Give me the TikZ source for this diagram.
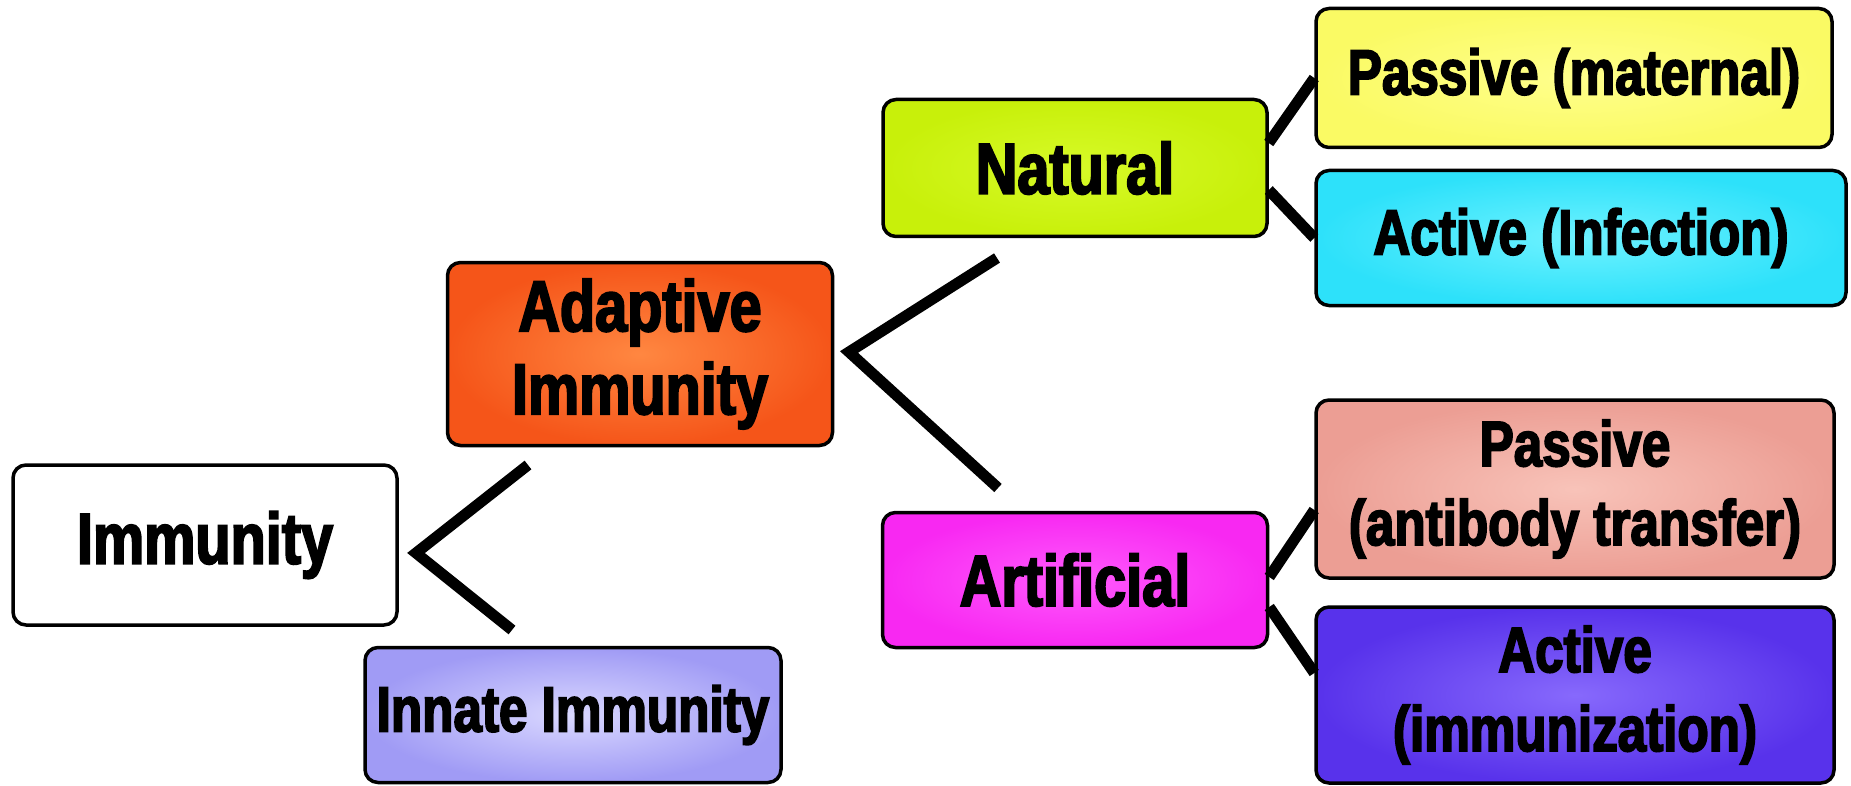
\documentclass[tikz,border=0pt]{standalone}
\usepackage{fontspec}
\newfontfamily\lab{Liberation Sans}[FakeStretch=0.80,FakeBold=2.8]
\definecolor{cInnI}{RGB}{218,216,255}
\definecolor{cInnO}{RGB}{160,155,245}
\definecolor{cAdaI}{RGB}{255,135,65}
\definecolor{cAdaO}{RGB}{245,85,25}
\definecolor{cNatI}{RGB}{215,250,40}
\definecolor{cNatO}{RGB}{200,240,10}
\definecolor{cArtI}{RGB}{255,90,252}
\definecolor{cArtO}{RGB}{248,40,242}
\definecolor{cPmI}{RGB}{255,255,140}
\definecolor{cPmO}{RGB}{250,250,100}
\definecolor{cAiI}{RGB}{110,242,255}
\definecolor{cAiO}{RGB}{45,225,250}
\definecolor{cPaI}{RGB}{248,195,185}
\definecolor{cPaO}{RGB}{236,158,148}
\definecolor{cAmI}{RGB}{135,105,252}
\definecolor{cAmO}{RGB}{88,50,235}
\tikzset{
  box/.style={draw=black, line width=3.5pt, rounded corners=13pt, inner sep=0pt, align=center, text=black},
  shadebox/.style 2 args={box, inner color=#1, outer color=#2},
  big/.style={font=\lab\bfseries\fontsize{72}{83}\selectfont},
  small/.style={font=\lab\bfseries\fontsize{64}{79}\selectfont},
  conn/.style={draw=black, line width=11pt, line join=miter},
}
\begin{document}
\begin{tikzpicture}[x=1pt,y=-1pt]
\useasboundingbox (0,0) rectangle (1851,786);
\fill[white] (0,0) rectangle (1851,786);
% nodes
\node[box, fill=white, big, minimum width=384pt, minimum height=160pt] (imm) at (205,545) {Immunity};
\node[shadebox={cInnI}{cInnO}, small, minimum width=416pt, minimum height=135pt] (inn) at (573,715) {Innate Immunity};
\node[shadebox={cAdaI}{cAdaO}, big, minimum width=385pt, minimum height=183pt] (ada) at (640,354) {Adaptive\\Immunity};
\node[shadebox={cNatI}{cNatO}, big, minimum width=384pt, minimum height=137pt] (nat) at (1075,168) {Natural};
\node[shadebox={cArtI}{cArtO}, big, minimum width=385pt, minimum height=135pt] (art) at (1075,580) {Artificial};
\node[shadebox={cPmI}{cPmO}, small, minimum width=516pt, minimum height=139pt] (pm) at (1574,78) {Passive (maternal)};
\node[shadebox={cAiI}{cAiO}, small, minimum width=530pt, minimum height=135pt] (ai) at (1581,238) {Active (Infection)};
\node[shadebox={cPaI}{cPaO}, small, minimum width=518pt, minimum height=178pt] (pa) at (1575,489) {Passive\\(antibody transfer)};
\node[shadebox={cAmI}{cAmO}, small, minimum width=518pt, minimum height=176pt] (am) at (1575,695) {Active\\(immunization)};
% branch coordinates
\coordinate (i1) at (528,465);
\coordinate (i0) at (416,553);
\coordinate (i2) at (512,630);
\coordinate (a1) at (997,258);
\coordinate (a0) at (849,352);
\coordinate (a2) at (998,488);
% connectors
\draw[conn] (i1) -- (i0) -- (i2);
\draw[conn] (a1) -- (a0) -- (a2);
\draw[conn] ([yshift=25pt]nat.east) -- (pm.west);
\draw[conn] ([yshift=-22pt]nat.east) -- (ai.west);
\draw[conn] ([yshift=3pt]art.east) -- ([yshift=-21pt]pa.west);
\draw[conn] ([yshift=-27pt]art.east) -- ([yshift=22pt]am.west);
\end{tikzpicture}
\end{document}
